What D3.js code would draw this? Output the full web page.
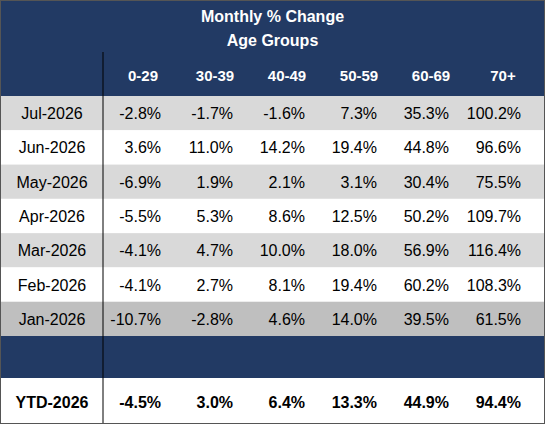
<!DOCTYPE html>
<html><head><meta charset="utf-8">
<script src="https://cdn.jsdelivr.net/npm/d3@7"></script>
<style>body{margin:0;background:#fff}</style>
</head><body>
<svg id="tbl" width="545" height="424"></svg>
<script>
const columns = ['0-29', '30-39', '40-49', '50-59', '60-69', '70+'];
const months = ['Jul-2026', 'Jun-2026', 'May-2026', 'Apr-2026', 'Mar-2026', 'Feb-2026', 'Jan-2026'];
const values = [
  [-2.8, -1.7, -1.6, 7.3, 35.3, 100.2],
  [3.6, 11.0, 14.2, 19.4, 44.8, 96.6],
  [-6.9, 1.9, 2.1, 3.1, 30.4, 75.5],
  [-5.5, 5.3, 8.6, 12.5, 50.2, 109.7],
  [-4.1, 4.7, 10.0, 18.0, 56.9, 116.4],
  [-4.1, 2.7, 8.1, 19.4, 60.2, 108.3],
  [-10.7, -2.8, 4.6, 14.0, 39.5, 61.5]
];
const ytdLabel = 'YTD-2026';
const ytd = [-4.5, 3.0, 6.4, 13.3, 44.9, 94.4];

const navy = '#223a64';
const rowFill = ['#d9d9d9', '#ffffff', '#d9d9d9', '#ffffff', '#d9d9d9', '#ffffff', '#bfbfbf'];
const font = 'Liberation Sans, Arial, sans-serif';
const svg = d3.select('#tbl');
const W = 545, H = 424;

const y = d3.scaleBand().domain(months).range([96, 336]);
const x = d3.scaleBand().domain(columns).range([103, 535]);
const fmt = v => v.toFixed(1) + '%';

svg.append('rect').attr('width', W).attr('height', 96).attr('fill', navy);
svg.append('rect').attr('y', 336).attr('width', W).attr('height', 42).attr('fill', navy);

svg.selectAll('rect.row').data(months).join('rect')
  .attr('x', 0).attr('y', d => y(d)).attr('width', W).attr('height', y.bandwidth())
  .attr('fill', (d, i) => rowFill[i]);

svg.append('text').attr('x', W / 2).attr('y', 22).attr('text-anchor', 'middle')
  .attr('fill', '#fff').attr('font-family', font).attr('font-weight', 'bold').attr('font-size', 16)
  .text('Monthly % Change');
svg.append('text').attr('x', W / 2).attr('y', 46).attr('text-anchor', 'middle')
  .attr('fill', '#fff').attr('font-family', font).attr('font-weight', 'bold').attr('font-size', 16)
  .text('Age Groups');

svg.selectAll('text.hdr').data(columns).join('text')
  .attr('x', d => x(d) + x.bandwidth() / 2 + 4).attr('y', 81).attr('text-anchor', 'middle')
  .attr('fill', '#fff').attr('font-family', font).attr('font-weight', 'bold').attr('font-size', 15)
  .text(d => d);

const rows = svg.selectAll('g.r').data(months).join('g')
  .attr('transform', d => `translate(0,${y(d) + y.bandwidth() / 2 + 6})`);
rows.append('text').attr('x', 52).attr('text-anchor', 'middle')
  .attr('font-family', font).attr('font-size', 16).attr('fill', '#000').text(d => d);
rows.selectAll('text.v').data((d, i) => values[i]).join('text')
  .attr('x', (d, j) => x(columns[j]) + x.bandwidth() - 14).attr('text-anchor', 'end')
  .attr('font-family', font).attr('font-size', 16).attr('fill', '#000').text(fmt);

const yt = svg.append('g').attr('transform', 'translate(0,408)');
yt.append('text').attr('x', 52).attr('text-anchor', 'middle').attr('font-family', font)
  .attr('font-weight', 'bold').attr('font-size', 16).text(ytdLabel);
yt.selectAll('text.v').data(ytd).join('text')
  .attr('x', (d, j) => x(columns[j]) + x.bandwidth() - 14).attr('text-anchor', 'end')
  .attr('font-family', font).attr('font-weight', 'bold').attr('font-size', 16).text(fmt);

svg.append('line').attr('x1', 103).attr('x2', 103).attr('y1', 52).attr('y2', H)
  .attr('stroke', '#000').attr('stroke-width', 1);
svg.append('rect').attr('x', 0.5).attr('y', 0.5).attr('width', W - 1).attr('height', H - 1)
  .attr('fill', 'none').attr('stroke', '#555').attr('stroke-width', 1);
</script>
</body></html>
